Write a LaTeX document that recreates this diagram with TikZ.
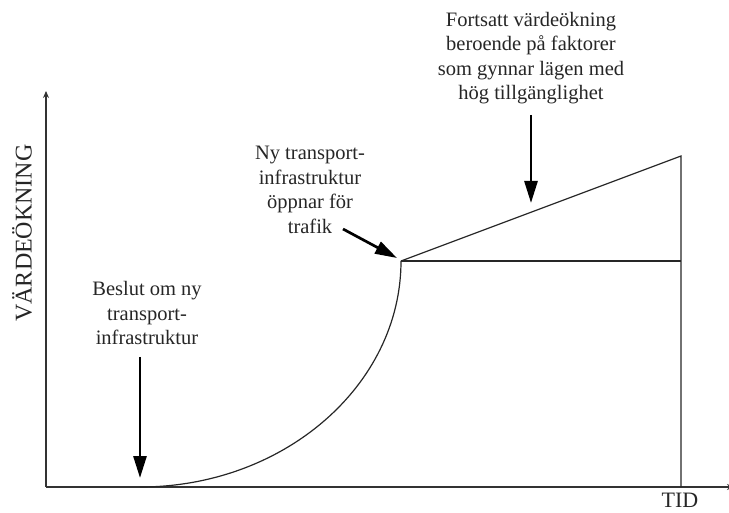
\documentclass[tikz,border=0pt]{standalone}
\usepackage{fontspec}
\setmainfont{Liberation Serif}
\usetikzlibrary{arrows.meta}
\begin{document}
\begin{tikzpicture}[x=1pt,y=-1pt,
  lbl/.style={align=center,inner sep=0pt,font=\fontsize{20.5}{24.5}\selectfont,text=black!85},
  axis/.style={line width=1.3pt,draw=black!80},
  graph/.style={line width=1.2pt,draw=black!85},
  callout/.style={line width=2.7pt,draw=black,-{Triangle[length=22pt,width=13pt]}}]
\path[use as bounding box] (0,0) rectangle (729,513);
% points
\coordinate (O) at (46,487);
\coordinate (ytop) at (46,91);
\coordinate (xend) at (734,487);
\coordinate (start) at (140,487);
\coordinate (open) at (401,261);
\coordinate (flatend) at (681,261);
\coordinate (slopeend) at (681,156);
\coordinate (base) at (681,487);
% axes
\draw[axis,-{Stealth[length=7pt,width=6pt]}] (O) -- (ytop);
\draw[axis,-{Stealth[length=7pt,width=6pt]}] (O) -- (xend);
% curve and lines
\draw[graph] (start) .. controls (284.1,487) and (401,385.2) .. (open);
\draw[graph] (open) -- (flatend);
\draw[graph] (open) -- (slopeend) -- (base);
% labels
\node[lbl,rotate=90,font=\fontsize{24}{28}\selectfont] (yl) at (22,233) {VÄRDEÖKNING};
\node[lbl,font=\fontsize{22}{26}\selectfont] (xl) at (680,500) {TID};
\node[lbl] (t1) at (147,313) {Beslut om ny\\transport-\\infrastruktur};
\node[lbl] (t2) at (310,190) {Ny transport-\\infrastruktur\\öppnar för\\trafik};
\node[lbl] (t3) at (531,58) {Fortsatt värdeökning\\beroende på faktorer\\som gynnar lägen med\\hög tillgänglighet};
% callout arrows
\coordinate (a1s) at (140,357);
\coordinate (a1e) at (140,478);
\coordinate (a2s) at (343,229);
\coordinate (a2e) at (397,258);
\coordinate (a3s) at (531,115);
\coordinate (a3e) at (531,203);
\draw[callout] (a1s) -- (a1e);
\draw[callout] (a2s) -- (a2e);
\draw[callout] (a3s) -- (a3e);
\end{tikzpicture}
\end{document}
